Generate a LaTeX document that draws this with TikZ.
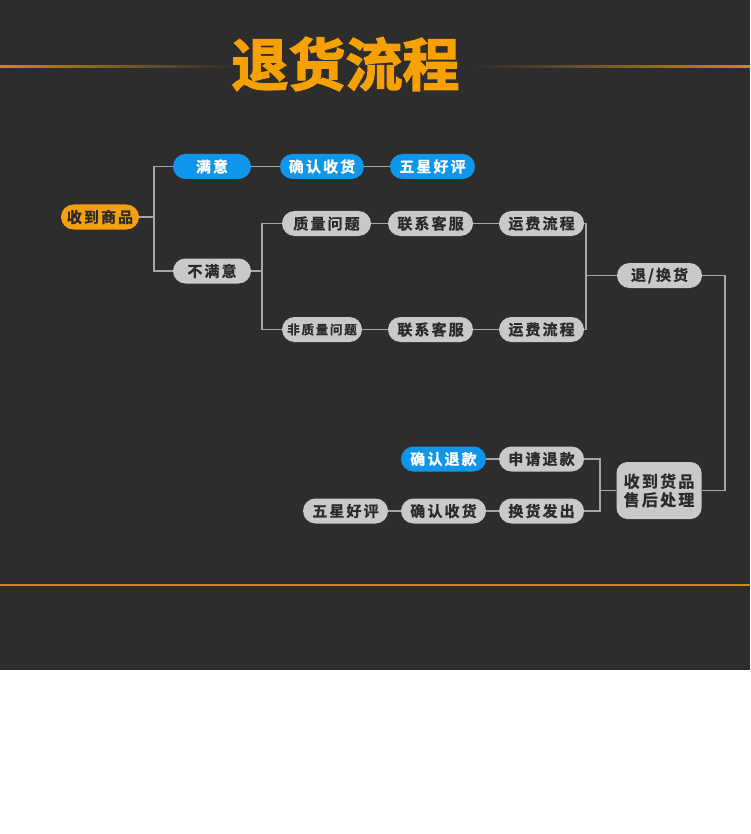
\documentclass[tikz,border=0pt]{standalone}
\usepackage{fontspec}
\newfontfamily\cjkbold[LetterSpace=14,FakeBold=1]{Noto Sans CJK SC Bold}
\newfontfamily\cjktitle[FakeBold=2.5]{Noto Sans CJK SC Bold}
\definecolor{pagedark}{HTML}{2D2D2D}
\definecolor{rulegold}{HTML}{C98A1E}
\definecolor{titleorange}{HTML}{F7A100}
\definecolor{pillgray}{HTML}{C9C9C9}
\definecolor{pillblue}{HTML}{0E96EC}
\definecolor{pillorange}{HTML}{F5A00F}
\definecolor{pilltext}{HTML}{2B2B2B}
\definecolor{linkgray}{HTML}{A6A6A6}
\tikzset{
    flownode/.style={
        fill=pillgray,
        text=pilltext,
        rounded corners=12.5pt,
        minimum width=85pt,
        minimum height=25pt,
        inner sep=0pt,
        font=\cjkbold\fontsize{15}{17}\selectfont
    },
    flowblue/.style={
        flownode,
        fill=pillblue,
        text=white
    },
    floworange/.style={
        flownode,
        fill=pillorange
    },
    flowbox/.style={
        flownode,
        rounded corners=11pt,
        minimum height=57pt,
        align=center,
        font=\cjkbold\fontsize{16}{18.5}\selectfont
    },
    flowlink/.style={
        draw=linkgray,
        line width=1.5pt
    }
}

\begin{document}
\begin{tikzpicture}[x=1pt,y=-1pt]
        \fill[pagedark] (0,0) rectangle (750,670);
        \fill[white] (0,670) rectangle (750,834);
        \useasboundingbox (0,0) rectangle (750,834);
        \shade[left color=rulegold, right color=pagedark] (0,66) rectangle (235,67.5);
        \shade[left color=pagedark, right color=rulegold] (475,66) rectangle (750,67.5);
        \fill[rulegold] (0,584) rectangle (750,585.8);
        \node[text=titleorange, font=\cjktitle\fontsize{57}{60}\selectfont] (title) at (345.5,64) {退货流程};

        \node[floworange, minimum width=78pt] (received) at (100,217) {收到商品};
        \node[flowblue, minimum width=78pt] (satisfied) at (212,166.5) {满意};
        \node[flowblue, minimum width=84pt] (confirmtop) at (322,166.5) {确认收货};
        \node[flowblue] (fivestartop) at (432.5,166.5) {五星好评};
        \node[flownode, minimum width=78pt] (unsatisfied) at (212,271) {不满意};
        \node[flownode, minimum width=89pt] (quality) at (326.5,223.5) {质量问题};
        \node[flownode, minimum width=80pt, font=\cjkbold\fontsize{12.5}{14}\selectfont] (nonquality) at (322,329.5) {非质量问题};
        \node[flownode] (contacttop) at (430.5,223.5) {联系客服};
        \node[flownode] (freighttop) at (541.5,223.5) {运费流程};
        \node[flownode] (contactbot) at (430.5,329.5) {联系客服};
        \node[flownode] (freightbot) at (541.5,329.5) {运费流程};
        \node[flownode] (returnswap) at (659.5,275.5) {退/换货};
        \node[flowbox] (aftersale) at (659,490.5) {收到货品\\售后处理};
        \node[flownode] (applyrefund) at (541.5,459) {申请退款};
        \node[flowblue] (confirmrefund) at (443.5,459) {确认退款};
        \node[flownode] (shipout) at (541.5,511) {换货发出};
        \node[flownode] (confirmbot) at (443.5,511) {确认收货};
        \node[flownode] (fivestarbot) at (345.5,511) {五星好评};

        \coordinate (forkA) at (154,217);
        \coordinate (forkB) at (262,271);
        \coordinate (forkC) at (586,275.5);
        \coordinate (forkD) at (600,490.5);
        \coordinate (turnE) at (725,490.5);

        \draw[flowlink] (received.east) -- (forkA);
        \draw[flowlink] (satisfied.west) -| (forkA) |- (unsatisfied.west);
        \draw[flowlink] (satisfied) -- (confirmtop);
        \draw[flowlink] (confirmtop) -- (fivestartop);
        \draw[flowlink] (unsatisfied.east) -- (forkB);
        \draw[flowlink] (quality.west) -| (forkB) |- (nonquality.west);
        \draw[flowlink] (quality) -- (contacttop);
        \draw[flowlink] (contacttop) -- (freighttop);
        \draw[flowlink] (nonquality) -- (contactbot);
        \draw[flowlink] (contactbot) -- (freightbot);
        \draw[flowlink] (freighttop.east) -| (forkC) |- (freightbot.east);
        \draw[flowlink] (forkC) -- (returnswap);
        \draw[flowlink] (returnswap.east) -| (turnE) -- (aftersale.east);
        \draw[flowlink] (aftersale.west) -- (forkD);
        \draw[flowlink] (applyrefund.east) -| (forkD) |- (shipout.east);
        \draw[flowlink] (applyrefund) -- (confirmrefund);
        \draw[flowlink] (shipout) -- (confirmbot);
        \draw[flowlink] (confirmbot) -- (fivestarbot);
\end{tikzpicture}
\end{document}
